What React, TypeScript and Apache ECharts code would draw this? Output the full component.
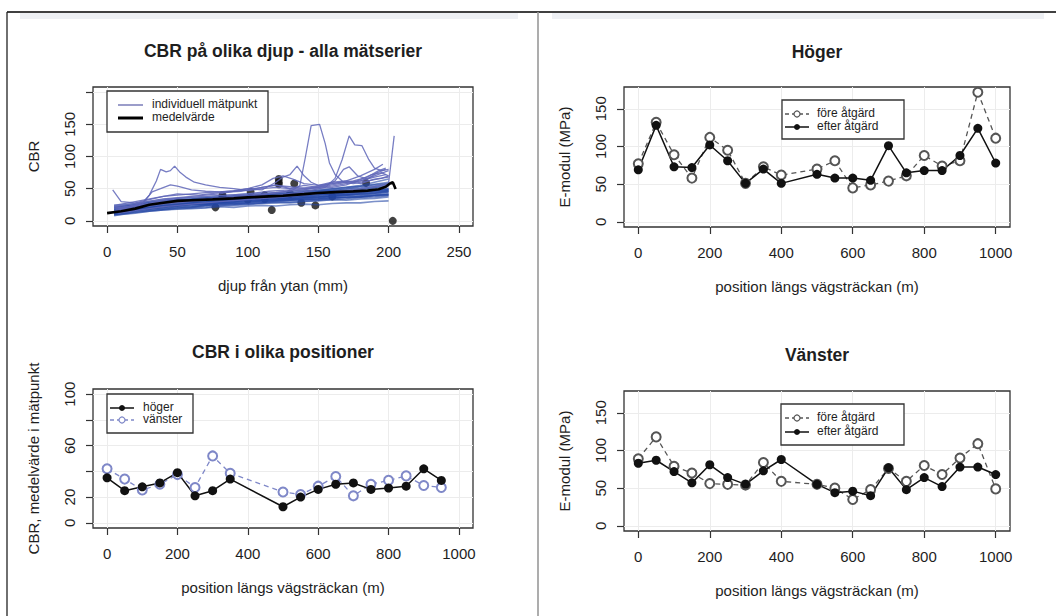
import React, { useEffect, useRef } from "react";
import * as echarts from "echarts";

// ---------- Panel 1: CBR på olika djup ----------
const depthGrid = [5, 10, 20, 30, 40, 50, 60, 70, 80, 90, 100, 110, 120, 130, 140, 150, 160, 170, 180, 190, 200];
const bandSeries: (number | null)[][] = [
  [9, 10, 13, 15, 17, 18, 19, 20, 22, 21, 23, 24, 23, 25, 26, 25, 27, 28, 28, 30, 31],
  [11, 13, 16, 19, 20, 22, 22, 24, 25, 27, 26, 28, 29, 28, 30, 31, 33, 32, 34, 35, 37],
  [14, 15, 18, 21, 23, 25, 27, 26, 28, 30, 31, 30, 32, 34, 33, 35, 37, 36, 38, 40, 41],
  [17, 18, 21, 24, 27, 28, 29, 30, 32, 31, 33, 35, 34, 36, 38, 37, 39, 41, 40, 43, 45],
  [null, 20, 23, 26, 29, 31, 30, 33, 34, 36, 35, 37, 39, 38, 40, 42, 41, 44, 46, 47, 50],
  [22, 23, 25, 29, 31, 33, 34, 36, 35, 38, 40, 39, 42, 43, 42, 45, 47, 46, 49, 52, 55],
  [13, 14, 17, 20, 23, 24, 26, 27, 29, 30, 32, 33, 35, 34, 36, 38, 40, 41, 43, 45, 47],
  [8, 10, 12, 15, 17, 19, 20, 21, 23, 24, 25, 27, 28, 29, 30, 32, 33, 34, 36, 37, 39],
  [24, 25, 27, 30, 33, 35, 36, 37, 39, 40, 42, 43, 44, 46, 48, 47, 50, 52, 54, 57, 60],
  [16, 17, 20, 23, 25, 27, 29, 31, 30, 33, 34, 36, 37, 38, 39, 41, 42, 44, 45, 47, 49],
  [10, 12, 15, 17, 19, 21, 22, 24, 26, 26, 28, 29, 31, 32, 33, 34, 36, 37, 38, 40, 42],
  [19, 20, 22, 25, 28, 30, 31, 32, 34, 35, 37, 38, 39, 41, 42, 43, 45, 46, 48, 51, 53],
  [null, 21, 24, 27, 30, 32, 33, 35, 37, 36, 39, 41, 40, 43, 45, 46, 48, 50, 53, 56, 58],
  [12, 14, 16, 18, 21, 23, 24, 25, 27, 28, 29, 31, 32, 33, 35, 36, 38, 39, 41, 42, 44],
  [20, 22, 24, 27, 29, 32, 34, 35, 37, 38, 39, 41, 43, 44, 46, 48, 50, 52, 55, 60, 65],
  [15, 16, 19, 22, 24, 26, 28, 29, 31, 32, 34, 35, 36, 37, 39, 40, 42, 43, 45, 48, 50],
  [14, 16, 18, 21, 22, 24, 25, 26, 28, 28, 29, 31, 31, 32, 34, 34, 35, 37, 37, 39, 41],
  [null, 17, 20, 22, 24, 25, 27, 28, 29, 31, 32, 32, 34, 35, 36, 37, 38, 40, 42, 44, 47],
  [18, 19, 21, 23, 26, 27, 28, 29, 31, 33, 34, 34, 36, 37, 38, 40, 41, 42, 44, 46, 48],
  [10, 11, 14, 16, 18, 20, 21, 23, 24, 25, 27, 28, 30, 31, 32, 33, 35, 36, 37, 39, 40],
  [21, 22, 25, 28, 30, 31, 33, 34, 36, 37, 38, 40, 41, 42, 44, 45, 47, 49, 51, 54, 57],
  [13, 15, 17, 19, 22, 24, 25, 27, 28, 29, 31, 32, 33, 35, 36, 37, 39, 40, 42, 43, 46],
];
const featureSeries: number[][][] = [
  [[4, 48], [10, 30], [20, 28], [30, 33], [40, 38], [50, 40], [60, 42], [70, 44], [80, 45], [90, 46], [100, 48], [110, 52], [120, 55], [130, 53], [140, 50], [150, 52], [160, 54], [170, 58], [180, 62], [190, 70], [200, 78]],
  [[8, 20], [15, 22], [25, 28], [30, 40], [35, 62], [38, 80], [42, 76], [45, 78], [48, 85], [52, 75], [56, 68], [62, 60], [70, 56], [80, 52], [90, 50], [100, 47], [110, 50], [120, 52], [130, 50], [140, 55], [150, 52], [160, 56], [170, 60], [180, 62], [190, 68], [198, 72]],
  [[6, 18], [15, 20], [25, 26], [32, 45], [38, 50], [45, 56], [50, 54], [60, 48], [70, 46], [80, 45], [90, 47], [100, 50], [110, 48], [120, 60], [125, 68], [130, 72], [135, 85], [140, 70], [145, 60], [150, 55], [160, 58], [170, 62], [180, 70], [190, 80], [196, 88]],
  [[5, 15], [15, 18], [25, 22], [40, 28], [60, 32], [80, 35], [100, 38], [115, 42], [125, 45], [132, 48], [137, 55], [141, 100], [145, 148], [151, 150], [155, 120], [158, 90], [162, 72], [168, 60], [175, 58], [185, 62], [195, 66], [200, 70]],
  [[6, 16], [20, 20], [40, 26], [60, 30], [80, 34], [100, 37], [120, 40], [140, 45], [155, 52], [162, 66], [167, 95], [172, 132], [176, 118], [181, 117], [186, 95], [190, 82], [195, 78], [200, 80]],
  [[5, 20], [20, 24], [40, 30], [60, 33], [80, 36], [100, 40], [120, 44], [140, 48], [155, 55], [162, 62], [168, 80], [172, 84], [178, 70], [185, 65], [192, 75], [198, 80]],
  [[8, 12], [20, 16], [40, 22], [60, 26], [80, 30], [100, 33], [120, 36], [140, 40], [160, 45], [180, 50], [195, 55], [200, 58], [204, 132]],
  [[5, 22], [20, 27], [40, 34], [60, 38], [80, 42], [100, 50], [110, 56], [118, 66], [125, 70], [132, 65], [140, 58], [150, 55], [160, 60], [170, 62], [180, 58], [190, 65], [200, 68]],
  [[5, 24], [20, 30], [35, 36], [50, 42], [65, 40], [80, 44], [95, 46], [110, 52], [120, 56], [130, 50], [145, 52], [160, 58], [175, 62], [185, 68], [193, 78], [198, 82]],
  [[8, 18], [25, 25], [40, 32], [55, 36], [70, 38], [85, 40], [100, 42], [115, 46], [130, 48], [145, 50], [160, 52], [170, 56], [180, 64], [188, 72], [195, 75], [200, 70]],
];
const meanDepth = [0, 10, 20, 30, 40, 50, 60, 75, 90, 100, 115, 125, 140, 150, 165, 175, 185, 193, 198, 201, 203, 205];
const meanCBR = [12, 15, 19, 25, 28, 31, 32, 33.3, 35, 36.5, 38, 39, 41.5, 43.2, 45, 45.8, 47, 49, 53, 58, 60, 49.5];
const dotDepth = [77, 82, 82, 100, 102, 112, 112, 117, 122, 122, 122, 133, 130, 138, 148, 160, 184, 203];
const dotCBR = [21, 38, 40, 33, 45, 40, 34, 17, 65, 60, 57, 58, 42, 28, 24, 38, 59, 0];

// ---------- Panels 2 & 4: E-modul ----------
const emPositions = [0, 50, 100, 150, 200, 250, 300, 350, 400, 500, 550, 600, 650, 700, 750, 800, 850, 900, 950, 1000];
const hogerFore = [77, 132, 89, 58, 112, 95, 51, 73, 62, 70, 81, 45, 49, 54, 61, 88, 74, 81, 172, 111];
const hogerEfter = [69, 128, 73, 72, 102, 81, 51, 70, 51, 63, 58, 58, 55, 101, 65, 68, 68, 88, 124, 78];
const vansterFore = [89, 118, 79, 70, 56, 55, 54, 84, 59, 55, 50, 35, 48, 76, 59, 80, 68, 90, 109, 49];
const vansterEfter = [83, 87, 72, 57, 81, 64, 55, 73, 88, 55, 44, 46, 40, 77, 48, 64, 52, 78, 78, 68];

// ---------- Panel 3: CBR i olika positioner ----------
const cbrPositions = [0, 50, 100, 150, 200, 250, 300, 350, 500, 550, 600, 650, 700, 750, 800, 850, 900, 950];
const cbrHoger = [35, 25, 28, 31, 39, 21, 25, 34, 12.5, 20, 26, 30, 31, 26, 27, 28.5, 42, 33];
const cbrVanster = [42, 34, 25.5, 30, 37.5, 27.5, 52, 38.5, 24, 22, 28.5, 36, 21, 30, 33, 36.5, 29, 27.5];

// ---------- ticks ----------
const depthTicks = [0, 50, 100, 150, 200, 250];
const cbrTicks = [0, 50, 100, 150, 200];
const cbrLabels = [0, 50, 100, 150];
const posTicks = [0, 200, 400, 600, 800, 1000];
const emTicks = [0, 50, 100, 150];
const cbrPosTicks = [0, 20, 40, 60, 80, 100];
const cbrPosLabels = [0, 20, 60, 100];

const FONT = "'Liberation Sans', Arial, Helvetica, sans-serif";
const TXT = "#1e1e1e";
const TOP = 100;

const zip = (xs: number[], ys: (number | null)[]) => xs.map((x, i) => [x, ys[i]]);
const plain = (v: number) => String(v);

function xAxisOpt(gridIndex: number, min: number, max: number, ticks: number[], name: string) {
  return {
    type: "value", gridIndex, min, max, name,
    nameLocation: "middle", nameGap: 52,
    nameTextStyle: { fontFamily: FONT, fontSize: 15, color: TXT },
    axisLine: { show: false, onZero: false },
    axisTick: { show: true, customValues: ticks, length: 7, lineStyle: { color: "#333", width: 1.2 } },
    axisLabel: { customValues: ticks, formatter: plain, margin: 18, fontFamily: FONT, fontSize: 15, color: TXT },
    splitLine: { show: true, lineStyle: { color: "#ececec", width: 1 } },
  };
}
function yAxisOpt(gridIndex: number, min: number, max: number, ticks: number[], labels: number[], name: string) {
  return {
    type: "value", gridIndex, min, max, name,
    nameLocation: "middle", nameGap: 52,
    nameTextStyle: { fontFamily: FONT, fontSize: 15, color: TXT },
    axisLine: { show: false, onZero: false },
    axisTick: { show: true, customValues: ticks, length: 7, lineStyle: { color: "#333", width: 1.2 } },
    axisLabel: { customValues: labels, formatter: plain, rotate: 90, margin: 16, fontFamily: FONT, fontSize: 15, color: TXT },
    splitLine: { show: true, lineStyle: { color: "#ececec", width: 1 } },
  };
}

function legendBox(x: number, y: number, w: number, h: number, items: any[]) {
  const out: any[] = [
    { type: "rect", z: TOP, shape: { x, y, width: w, height: h }, style: { fill: "#fff", stroke: "#333", lineWidth: 1.3 } },
  ];
  items.forEach((it) => {
    out.push({
      type: "line", z: TOP + 1,
      shape: { x1: it.lx1, y1: it.y, x2: it.lx2, y2: it.y },
      style: it.dash
        ? { stroke: it.color, lineWidth: it.width, lineDash: [4, 3] }
        : { stroke: it.color, lineWidth: it.width },
    });
    if (it.marker) {
      out.push({
        type: "circle", z: TOP + 2,
        shape: { cx: (it.lx1 + it.lx2) / 2, cy: it.y, r: 3 },
        style: it.marker === "filled" ? { fill: it.color } : { fill: "#fff", stroke: it.color, lineWidth: 1.2 },
      });
    }
    out.push({
      type: "text", z: TOP + 2, x: it.tx, y: it.y - 7,
      style: { text: it.label, fontFamily: FONT, fontSize: 12, fill: TXT, verticalAlign: "top", align: "left" },
    });
  });
  return out;
}

export default function App() {
  const ref = useRef<HTMLDivElement>(null);
  useEffect(() => {
    document.body.style.margin = "0";
    if (!ref.current) return;
    const chart = echarts.init(ref.current, null, { renderer: "svg" });

    const series: any[] = [];
    bandSeries.forEach((vals) => {
      series.push({
        type: "line", xAxisIndex: 0, yAxisIndex: 0, data: zip(depthGrid, vals),
        showSymbol: false, symbol: "none", silent: true,
        lineStyle: { color: "rgba(35,70,165,0.6)", width: 1.6 },
      });
    });
    featureSeries.forEach((pts) => {
      series.push({
        type: "line", xAxisIndex: 0, yAxisIndex: 0, data: pts,
        showSymbol: false, symbol: "none", silent: true,
        lineStyle: { color: "rgba(95,102,185,0.85)", width: 1.3 },
      });
    });
    series.push({
      type: "line", name: "medelvärde", xAxisIndex: 0, yAxisIndex: 0, data: zip(meanDepth, meanCBR),
      showSymbol: false, symbol: "none", lineStyle: { color: "#000", width: 2.6 },
    });
    series.push({
      type: "scatter", xAxisIndex: 0, yAxisIndex: 0, data: zip(dotDepth, dotCBR),
      symbol: "circle", symbolSize: 8, itemStyle: { color: "#111" },
    });

    const fore = (xi: number, data: number[]) => ({
      type: "line", name: "före åtgärd", xAxisIndex: xi, yAxisIndex: xi, data: zip(emPositions, data),
      symbol: "emptyCircle", symbolSize: 9,
      lineStyle: { color: "#555", width: 1.3, type: [5, 4] },
      itemStyle: { color: "#555", borderWidth: 1.3 },
    });
    const efter = (xi: number, data: number[]) => ({
      type: "line", name: "efter åtgärd", xAxisIndex: xi, yAxisIndex: xi, data: zip(emPositions, data),
      symbol: "circle", symbolSize: 9,
      lineStyle: { color: "#111", width: 1.5 },
      itemStyle: { color: "#111" },
    });
    series.push(fore(1, hogerFore), efter(1, hogerEfter));
    series.push(fore(3, vansterFore), efter(3, vansterEfter));
    series.push({
      type: "line", name: "vänster", xAxisIndex: 2, yAxisIndex: 2, data: zip(cbrPositions, cbrVanster),
      symbol: "emptyCircle", symbolSize: 9,
      lineStyle: { color: "#7f88c8", width: 1.3, type: [5, 4] },
      itemStyle: { color: "#7f88c8", borderWidth: 1.3 },
    });
    series.push({
      type: "line", name: "höger", xAxisIndex: 2, yAxisIndex: 2, data: zip(cbrPositions, cbrHoger),
      symbol: "circle", symbolSize: 9,
      lineStyle: { color: "#111", width: 1.5 },
      itemStyle: { color: "#111" },
    });

    const gridBase = { show: true, borderColor: "#333", borderWidth: 1.3, backgroundColor: "transparent", containLabel: false, outerBoundsMode: "none" };
    const titleStyle = { fontFamily: FONT, fontSize: 17.5, fontWeight: "bold", color: TXT };

    chart.setOption({
      animation: false,
      backgroundColor: "#fff",
      title: [
        { text: "CBR på olika djup - alla mätserier", left: 283, top: 42, textAlign: "center", padding: 0, textStyle: titleStyle },
        { text: "Höger", left: 817, top: 43, textAlign: "center", padding: 0, textStyle: titleStyle },
        { text: "CBR i olika positioner", left: 283, top: 343, textAlign: "center", padding: 0, textStyle: titleStyle },
        { text: "Vänster", left: 817, top: 346, textAlign: "center", padding: 0, textStyle: titleStyle },
      ],
      grid: [
        { ...gridBase, left: 93, top: 87, width: 380, height: 139 },
        { ...gridBase, left: 624, top: 87, width: 386, height: 140 },
        { ...gridBase, left: 93, top: 389, width: 380, height: 139 },
        { ...gridBase, left: 624, top: 391, width: 386, height: 140 },
      ],
      xAxis: [
        xAxisOpt(0, -10, 260, depthTicks, "djup från ytan (mm)"),
        xAxisOpt(1, -40, 1040, posTicks, "position längs vägsträckan (m)"),
        xAxisOpt(2, -40, 1040, posTicks, "position längs vägsträckan (m)"),
        xAxisOpt(3, -40, 1040, posTicks, "position längs vägsträckan (m)"),
      ],
      yAxis: [
        yAxisOpt(0, -8, 208, cbrTicks, cbrLabels, "CBR"),
        yAxisOpt(1, -6.9, 178.9, emTicks, emTicks, "E-modul (MPa)"),
        yAxisOpt(2, -4, 104, cbrPosTicks, cbrPosLabels, "CBR, medelvärde i mätpunkt"),
        yAxisOpt(3, -6.9, 178.9, emTicks, emTicks, "E-modul (MPa)"),
      ],
      series,
      graphic: [
        { type: "line", z: TOP, shape: { x1: 7, y1: 12, x2: 1056, y2: 12 }, style: { stroke: "#000", lineWidth: 1.3 } },
        { type: "line", z: TOP, shape: { x1: 7, y1: 12, x2: 7, y2: 616 }, style: { stroke: "#222", lineWidth: 1.3 } },
        { type: "line", z: TOP, shape: { x1: 538, y1: 12, x2: 538, y2: 616 }, style: { stroke: "#999", lineWidth: 1.6 } },
        { type: "rect", shape: { x: 20, y: 13, width: 498, height: 6 }, style: { fill: "#eef0f4" } },
        { type: "rect", shape: { x: 552, y: 13, width: 492, height: 6 }, style: { fill: "#eef0f4" } },
        ...legendBox(107, 91, 161, 41, [
          { lx1: 118, lx2: 143, y: 105, color: "#7a7db8", width: 1.5, tx: 152, label: "individuell mätpunkt" },
          { lx1: 118, lx2: 143, y: 118, color: "#000", width: 3, tx: 152, label: "medelvärde" },
        ]),
        ...legendBox(782, 100, 122, 39, [
          { lx1: 785, lx2: 809, y: 114, color: "#555", width: 1.3, dash: true, marker: "open", tx: 817, label: "före åtgärd" },
          { lx1: 785, lx2: 809, y: 127, color: "#111", width: 1.5, marker: "filled", tx: 817, label: "efter åtgärd" },
        ]),
        ...legendBox(107, 394, 86, 39, [
          { lx1: 110, lx2: 134, y: 408, color: "#111", width: 1.5, marker: "filled", tx: 143, label: "höger" },
          { lx1: 110, lx2: 134, y: 420, color: "#7f88c8", width: 1.3, dash: true, marker: "open", tx: 143, label: "vänster" },
        ]),
        ...legendBox(781, 404, 123, 41, [
          { lx1: 785, lx2: 809, y: 418, color: "#555", width: 1.3, dash: true, marker: "open", tx: 817, label: "före åtgärd" },
          { lx1: 785, lx2: 809, y: 432, color: "#111", width: 1.5, marker: "filled", tx: 817, label: "efter åtgärd" },
        ]),
      ],
    });
    return () => chart.dispose();
  }, []);
  return <div ref={ref} style={{ width: 1056, height: 616 }} />;
}
